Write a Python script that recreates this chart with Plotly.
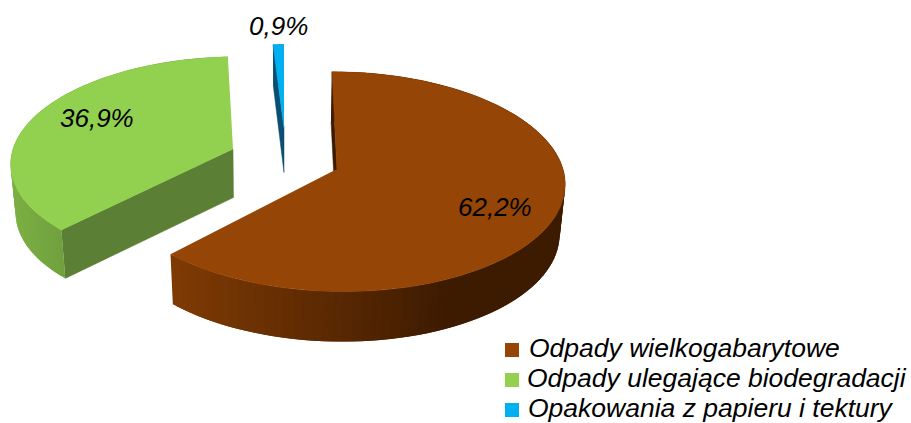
import numpy as np
import plotly.graph_objects as go

categories = ["Odpady wielkogabarytowe", "Odpady ulegające biodegradacji", "Opakowania z papieru i tektury"]
shares = [62.2, 36.9, 0.9]
colors = ["#954505", "#92D050", "#00B0F0"]
face_colors = ["#3D1B01", "#5B7F34", "#0A4F70"]
wall_stops = [
    [(170, "#803B04"), (350, "#562702"), (450, "#3D1B01"), (570, "#3D1B01")],
    [(10, "#7DB044"), (65, "#6FA03E")],
    [(270, "#0A4F70"), (290, "#0A4F70")],
]
# per-slice placement of the pseudo-3D pie: apex x, apex y, R, Rt, shear, depth, depth slope, x shift
geometry = [
    (337, 169, 226, 108.5, 0.052, 50, 0, -1),
    (233, 149, 220, 103, -0.065, 48.5, 0, 0.5),
    (284, 128, 216, 93, 0, 44.5, 3.5, 0),
]
label_pos = [(495, 207), (97, 118), (278, 25.5)]
legend_marker_x = 512
legend_marker_y = [350, 380, 410]
legend_text_x = [527, 525, 526]
legend_text_y = [348, 378, 408]
K = 0.115
W, H = 911, 423


def hex2rgb(c):
    return np.array([int(c[i:i + 2], 16) for i in (1, 3, 5)], float)


def shade(x, stops):
    xs = [s[0] for s in stops]
    rgb = np.array([hex2rgb(s[1]) for s in stops])
    v = [np.interp(x, xs, rgb[:, j]) for j in range(3)]
    return "rgb(%d,%d,%d)" % tuple(v)


def rim(theta, g):
    ax, ay, R, Rt, s, d, ds, sh = g
    u, v = np.sin(theta), -np.cos(theta)
    w = 1 - K * v
    y = ay + Rt * v / w
    x = ax + R * u / w + s * (y - ay)
    return x, y, v


def lower(x, y, v, g):
    ax, ay, R, Rt, s, d, ds, sh = g
    return ax + (x - ax) * 0.98 + sh, y + d + ds * v


def poly(xs, ys, color, lw=0.5):
    return go.Scatter(x=list(xs), y=list(ys), mode="lines", fill="toself", fillcolor=color,
                      line=dict(color=color, width=lw), hoverinfo="skip", showlegend=False)


fig = go.Figure()
edges = np.cumsum([0] + shares) / sum(shares) * 2 * np.pi
for i in [1, 2, 0]:
    g = geometry[i]
    a0, a1 = edges[i], edges[i + 1]
    th = np.linspace(a0, a1, 200)
    x, y, v = rim(th, g)
    xb, yb = lower(x, y, v, g)
    ax, ay = g[0], g[1]
    # outer wall, in overlapping strips so that it can carry the gradient
    step = 2
    for j in range(0, len(th) - step, step):
        k = min(j + step + 3, len(th))
        c = shade(0.5 * (x[j] + x[j + step]), wall_stops[i])
        fig.add_trace(poly(np.r_[x[j:k], xb[j:k][::-1]], np.r_[y[j:k], yb[j:k][::-1]], c, 0))
    # the cut face that looks towards the viewer
    abx, aby = ax + g[7], ay + g[5]
    fig.add_trace(poly([x[0], ax, abx, xb[0]], [y[0], ay, aby, yb[0]], face_colors[i]))
    # top surface
    fig.add_trace(poly(np.r_[ax, x], np.r_[ay, y], colors[i]))

for c, ty in zip(colors, legend_marker_y):
    fig.add_trace(go.Scatter(x=[legend_marker_x], y=[ty], mode="markers", hoverinfo="skip", showlegend=False,
                             marker=dict(symbol="square", size=14, color=c, line=dict(width=0))))

for val, (lx, ly) in zip(shares, label_pos):
    fig.add_annotation(x=lx, y=ly, text=f"{val:.1f}%".replace(".", ","), showarrow=False,
                       font=dict(family="Liberation Sans", size=26, color="#000000", style="italic"))
for name, tx, ty in zip(categories, legend_text_x, legend_text_y):
    fig.add_annotation(x=tx, y=ty, text=name, showarrow=False, xanchor="left",
                       font=dict(family="Liberation Sans", size=26.5, color="#000000", style="italic"))

fig.update_layout(
    width=W, height=H, margin=dict(l=0, r=0, t=0, b=0), autosize=False, showlegend=False,
    paper_bgcolor="white", plot_bgcolor="white",
    xaxis=dict(range=[0, W], visible=False, fixedrange=True),
    yaxis=dict(range=[H, 0], visible=False, fixedrange=True),
)
fig.write_html("out.html", post_script="document.body.style.margin='0';document.body.style.overflow='hidden';",
               config={"displayModeBar": False})
